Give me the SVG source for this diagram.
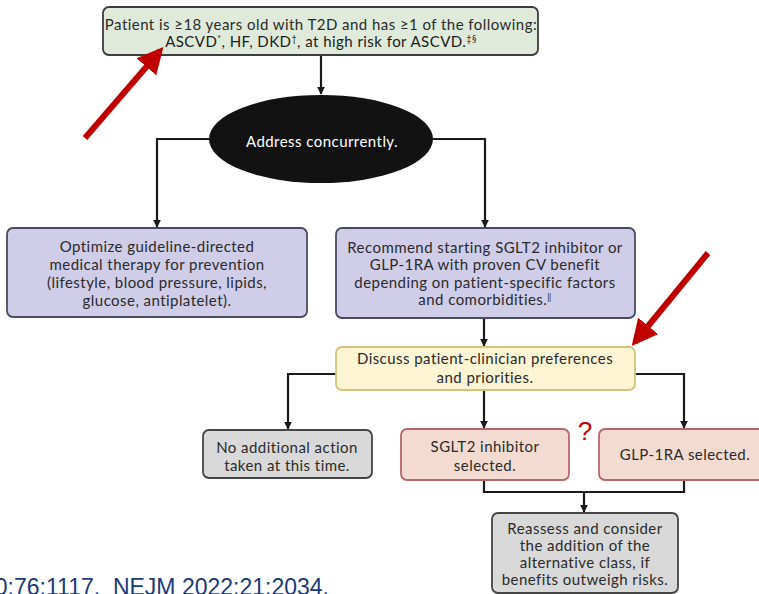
<svg xmlns="http://www.w3.org/2000/svg" width="759" height="594" viewBox="0 0 759 594">
<defs>
<style>
.t{font-family:Lato,"Open Sans","DejaVu Sans",sans-serif;font-size:15px;letter-spacing:0.45px;fill:#2a2a2a;text-anchor:middle}
.box{stroke-width:1.8}
.c{fill:none;stroke:#1a1a1a;stroke-width:2.2}
.red{stroke:#c00000;stroke-width:6;fill:none}
</style>
<marker id="ah" viewBox="0 0 10 10" refX="9" refY="5" markerWidth="8" markerHeight="8" markerUnits="userSpaceOnUse" orient="auto">
<path d="M0,0 L10,5 L0,10 z" fill="#1a1a1a"/>
</marker>
<marker id="rh" viewBox="0 0 10 10" refX="8" refY="5" markerWidth="26" markerHeight="26" markerUnits="userSpaceOnUse" orient="auto">
<path d="M0,0 L10,5 L0,10 z" fill="#c00000"/>
</marker>
</defs>
<rect width="759" height="594" fill="#ffffff"/>

<g id="connectors">
<path class="c" d="M321,55 V94" marker-end="url(#ah)"/>
<path class="c" d="M210,139 H157 V227" marker-end="url(#ah)"/>
<path class="c" d="M433,139 H485 V227" marker-end="url(#ah)"/>
<path class="c" d="M484,318 V346" marker-end="url(#ah)"/>
<path class="c" d="M336,374 H288 V429" marker-end="url(#ah)"/>
<path class="c" d="M484,390 V428" marker-end="url(#ah)"/>
<path class="c" d="M635,374 H684 V428" marker-end="url(#ah)"/>
<path class="c" d="M484,480 V492 H684 V480"/>
<path class="c" d="M584,492 V512" marker-end="url(#ah)"/>
</g>

<g id="start">
<rect class="box" x="103" y="7" width="435" height="48" rx="6" fill="#dfeadb" stroke="#3c3c3c"/>
<text class="t" x="321" y="30" font-size="14" letter-spacing="0.5">Patient is ≥18 years old with T2D and has ≥1 of the following:</text>
<text class="t" x="321" y="47" font-size="14" letter-spacing="0.5" style="fill:#1a1a1a">ASCVD<tspan font-size="9" dy="-5">*</tspan><tspan dy="5">, HF, DKD</tspan><tspan font-size="9" dy="-5">†</tspan><tspan dy="5">, at high risk for ASCVD.</tspan><tspan font-size="9" dy="-5">‡§</tspan></text>
</g>

<g id="address">
<ellipse cx="321" cy="139" rx="112" ry="44" fill="#121212"/>
<text class="t" x="322" y="147" font-size="18" letter-spacing="1.5" style="fill:#ffffff">Address concurrently.</text>
</g>

<g id="optimize">
<rect class="box" x="7" y="228" width="300" height="89" rx="6" fill="#d0cde8" stroke="#4a4a60"/>
<text class="t" x="157" y="252">Optimize guideline-directed</text>
<text class="t" x="157" y="270">medical therapy for prevention</text>
<text class="t" x="157" y="288">(lifestyle, blood pressure, lipids,</text>
<text class="t" x="157" y="306">glucose, antiplatelet).</text>
</g>

<g id="recommend">
<rect class="box" x="336" y="228" width="299" height="90" rx="6" fill="#d0cde8" stroke="#4a4a60"/>
<text class="t" x="485" y="253">Recommend starting SGLT2 inhibitor or</text>
<text class="t" x="485" y="270">GLP-1RA with proven CV benefit</text>
<text class="t" x="485" y="288">depending on patient-specific factors</text>
<text class="t" x="485" y="305">and comorbidities.<tspan font-size="9" dy="-5">‖</tspan></text>
</g>

<g id="discuss">
<rect class="box" x="336" y="347" width="299" height="43" rx="6" fill="#fcf4d2" stroke="#d6c27a"/>
<text class="t" x="485" y="364">Discuss patient-clinician preferences</text>
<text class="t" x="485" y="383">and priorities.</text>
</g>

<g id="noaction">
<rect class="box" x="203" y="430" width="169" height="48" rx="6" fill="#d9d9d9" stroke="#444444"/>
<text class="t" x="287" y="453" letter-spacing="0.3">No additional action</text>
<text class="t" x="287" y="471" letter-spacing="0.3">taken at this time.</text>
</g>

<g id="sglt2">
<rect class="box" x="401" y="429" width="168" height="51" rx="6" fill="#f3dbd1" stroke="#b8666c"/>
<text class="t" x="485" y="452" font-size="16" letter-spacing="0.5">SGLT2 inhibitor</text>
<text class="t" x="485" y="471" font-size="16" letter-spacing="0.5">selected.</text>
</g>

<g id="glp1">
<rect class="box" x="599" y="429" width="170" height="51" rx="6" fill="#f3dbd1" stroke="#b8666c"/>
<text class="t" x="685" y="460" letter-spacing="0.4">GLP-1RA selected.</text>
</g>

<g id="reassess">
<rect class="box" x="492" y="513" width="186" height="80" rx="6" fill="#d9d9d9" stroke="#444444"/>
<text class="t" x="585" y="534" font-size="15" letter-spacing="0.9">Reassess and consider</text>
<text class="t" x="585" y="551" font-size="15" letter-spacing="0.9">the addition of the</text>
<text class="t" x="585" y="568" font-size="15" letter-spacing="0.9">alternative class, if</text>
<text class="t" x="585" y="585" font-size="15" letter-spacing="0.9">benefits outweigh risks.</text>
</g>

<text x="585" y="440" font-family="Liberation Sans, Arial, sans-serif" font-size="26" fill="#c00000" text-anchor="middle">?</text>

<g id="annotations">
<line class="red" x1="85" y1="138" x2="160" y2="51" marker-end="url(#rh)"/>
<line class="red" x1="708" y1="253" x2="635" y2="342" marker-end="url(#rh)"/>
</g>

<text x="329" y="595" font-family="Liberation Sans, Arial, sans-serif" font-size="23" fill="#1a3a78" text-anchor="end" xml:space="preserve">0:76:1117.  NEJM 2022:21:2034.</text>
</svg>
